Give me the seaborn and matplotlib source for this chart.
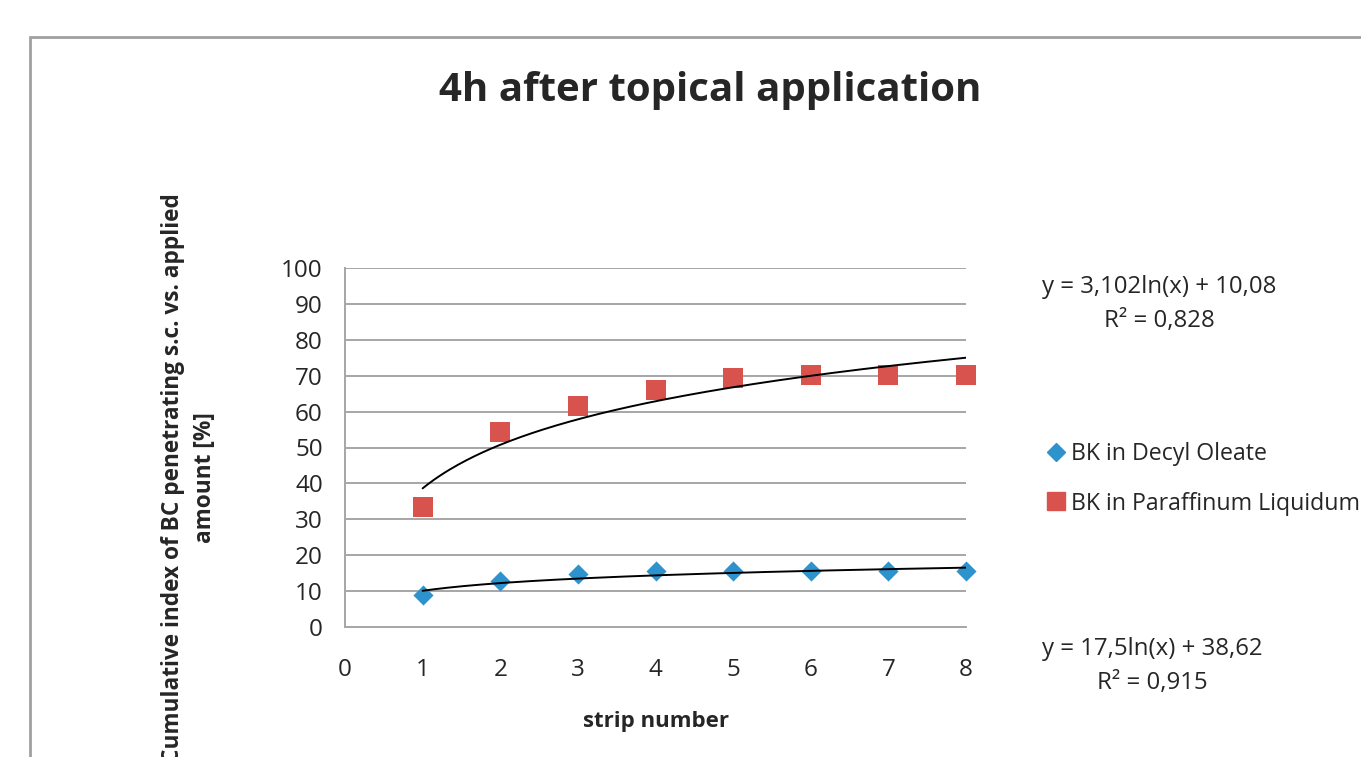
# 4h after topical application - cumulative penetration per tape strip
import numpy as np
import pandas as pd
import matplotlib.pyplot as plt
import seaborn as sns
from matplotlib.patches import Rectangle
from matplotlib.lines import Line2D

# values
strips = [1, 2, 3, 4, 5, 6, 7, 8]
decyl_oleate = [8.9, 12.8, 14.9, 15.6, 15.6, 15.6, 15.6, 15.6]
paraffinum = [33.4, 54.2, 61.5, 66.0, 69.4, 70.2, 70.2, 70.2]
series_names = ["BK in Decyl Oleate", "BK in Paraffinum Liquidum"]

# logarithmic trendline coefficients printed on the chart
decyl_fit = (3.102, 10.08)
paraffin_fit = (17.5, 38.62)

blue = "#2E93CD"
red = "#D9534E"
grid_grey = "#A6A6A6"
text_col = "#262626"

sns.set_theme(style="white")
plt.rcParams["font.family"] = ["Open Sans", "DejaVu Sans"]

df = pd.DataFrame({
    "strip": strips * 2,
    "value": decyl_oleate + paraffinum,
    "series": [series_names[0]] * 8 + [series_names[1]] * 8,
})

fig = plt.figure(figsize=(13.61, 7.57), dpi=100)
ax = fig.add_axes([345 / 1361, 130 / 757, 621 / 1361, 359 / 757])

# outer chart frame (runs off the right and bottom of the image)
fig.patches.append(Rectangle((30 / 1361, -0.1), 1.2, (757 - 37) / 757 + 0.1,
                             transform=fig.transFigure, fill=False,
                             edgecolor="#A0A0A0", linewidth=2))

# trendlines
xs = np.linspace(1, 8, 200)
ax.plot(xs, decyl_fit[0] * np.log(xs) + decyl_fit[1], color="black", lw=1.4, zorder=3)
ax.plot(xs, paraffin_fit[0] * np.log(xs) + paraffin_fit[1], color="black", lw=1.4, zorder=3)

# the two series
sns.scatterplot(data=df[df["series"] == series_names[0]], x="strip", y="value",
                marker="D", color=blue, s=105, linewidth=0, ax=ax, zorder=2,
                legend=False, clip_on=False)
sns.scatterplot(data=df[df["series"] == series_names[1]], x="strip", y="value",
                marker="s", color=red, s=225, linewidth=0, ax=ax, zorder=2,
                legend=False, clip_on=False)

ax.set_xlim(0, 8)
ax.set_ylim(0, 100)
ax.set_xticks(range(0, 9))
ax.set_yticks(range(0, 101, 10))
ax.yaxis.grid(True, color=grid_grey, lw=1.4)
ax.set_axisbelow(True)
for side in ["top", "right"]:
    ax.spines[side].set_visible(False)
for side in ["left", "bottom"]:
    ax.spines[side].set_color(grid_grey)
    ax.spines[side].set_linewidth(1.4)
ax.tick_params(axis="both", direction="out", length=5, width=1.4, color=grid_grey,
               labelsize=17.5, labelcolor=text_col)
ax.tick_params(axis="y", pad=11)
ax.tick_params(axis="x", pad=17)
ax.set_xlabel("")
ax.set_ylabel("")

# titles and labels (the y label runs off the bottom, as in the original)
fig.text(710 / 1361, 1 - 90 / 757, "4h after topical application", ha="center", va="center",
         fontsize=29, fontweight="bold", color=text_col)
fig.text(656 / 1361, 1 - 722 / 757, "strip number", ha="center", va="center",
         fontsize=16, fontweight="bold", color=text_col)
fig.text(189 / 1361, 1 - 478 / 757,
         "Cumulative index of BC penetrating s.c. vs. applied\namount [%]",
         ha="center", va="center", rotation=90, fontsize=16.3, fontweight="bold",
         color=text_col, linespacing=1.45)

# trendline equations
fig.text(1159 / 1361, 1 - 287 / 757, "y = 3,102ln(x) + 10,08", ha="center", va="center",
         fontsize=17.3, color=text_col)
fig.text(1159 / 1361, 1 - 321 / 757, "R² = 0,828", ha="center", va="center",
         fontsize=17.3, color=text_col)
fig.text(1152 / 1361, 1 - 649 / 757, "y = 17,5ln(x) + 38,62", ha="center", va="center",
         fontsize=17.3, color=text_col)
fig.text(1152 / 1361, 1 - 683 / 757, "R² = 0,915", ha="center", va="center",
         fontsize=17.3, color=text_col)

# legend
handles = [
    Line2D([], [], marker="D", color=blue, linestyle="none", markersize=9),
    Line2D([], [], marker="s", color=red, linestyle="none", markersize=13),
]
fig.legend(handles, series_names, loc="upper left",
           bbox_to_anchor=(1047 / 1361, 1 - 442 / 757), frameon=False,
           fontsize=16.7, handlelength=0.8, handletextpad=0.25, labelspacing=1.1,
           borderaxespad=0, borderpad=0, labelcolor=text_col)

fig.savefig("out.png", dpi=100)
